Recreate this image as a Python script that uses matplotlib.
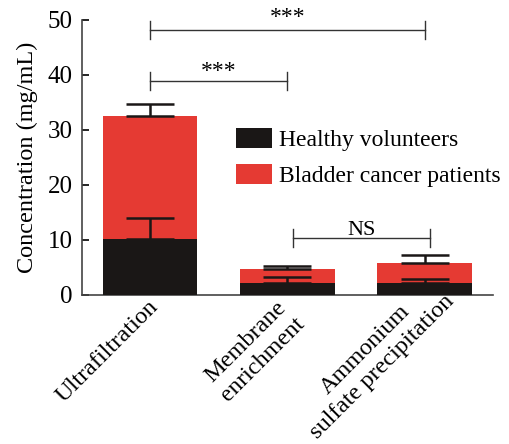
import numpy as np
import matplotlib.pyplot as plt
from matplotlib.transforms import ScaledTranslation

plt.rcParams['font.family'] = ['Liberation Serif', 'DejaVu Serif']

# Data
methods = ["Ultrafiltration", "Membrane\nenrichment", "Ammonium\nsulfate precipitation"]
healthy = [10.2, 2.2, 2.2]
healthy_err = [3.8, 1.1, 0.7]
cancer = [32.5, 4.7, 5.8]
cancer_err = [2.2, 0.6, 1.4]

black = "#1a1716"
red = "#e53a33"
x = np.arange(len(methods))
bar_width = 0.69

fig = plt.figure(figsize=(5.1, 4.44), dpi=100)
ax = fig.add_axes([0.161, 0.336, 0.806, 0.619])

# red bar is the total, black bar drawn on top of it
ax.bar(x, cancer, width=bar_width, color=red, label="Bladder cancer patients", zorder=2)
ax.bar(x, healthy, width=bar_width, color=black, label="Healthy volunteers", zorder=3)

ax.errorbar(x, cancer, yerr=[np.zeros(3), cancer_err], fmt="none", ecolor=black,
            elinewidth=1.8, capsize=17, capthick=1.8, zorder=4)
ax.errorbar(x, healthy, yerr=[np.zeros(3), healthy_err], fmt="none", ecolor=black,
            elinewidth=1.8, capsize=17, capthick=1.8, zorder=4)

# significance brackets
def bracket(x1, x2, y, text, dy=1.6, fs=17, off=0.0):
    ax.plot([x1, x2], [y, y], color="#333333", lw=1, clip_on=False)
    ax.plot([x1, x1], [y - dy, y + dy], color="#333333", lw=1, clip_on=False)
    ax.plot([x2, x2], [y - dy, y + dy], color="#333333", lw=1, clip_on=False)
    ax.text((x1 + x2) / 2, y + off, text, ha="center", va="bottom", fontsize=fs,
            clip_on=False)

bracket(0, 2, 48.2, "***", off=0.3)
bracket(0, 1, 38.9, "***", off=-0.2)
bracket(1.04, 2.04, 10.3, "NS", fs=16, off=-0.3)

ax.set_xlim(-0.496, 2.5)
ax.set_ylim(0, 50)
ax.set_yticks([0, 10, 20, 30, 40, 50])
ax.set_xticks(x)
ax.set_xticklabels(methods, rotation=45, ha="right", rotation_mode="anchor",
                   multialignment="center")
ax.tick_params(axis="x", length=0, labelsize=17.5, pad=5)
ax.tick_params(axis="y", direction="in", length=5, width=1.2, labelsize=18, pad=7)
ax.set_ylabel("Concentration (mg/mL)", fontsize=17.5, labelpad=7)

# nudge the rotated labels (pixels: right, up)
shifts = [(-2, 6), (-10, 6), (2, 28)]
for lab, (dx, dy) in zip(ax.get_xticklabels(), shifts):
    lab.set_transform(lab.get_transform() +
                      ScaledTranslation(dx / 100, dy / 100, fig.dpi_scale_trans))

for s in ["top", "right"]:
    ax.spines[s].set_visible(False)
for s in ["left", "bottom"]:
    ax.spines[s].set_linewidth(1.2)
    ax.spines[s].set_color("#444444")

handles, labels = ax.get_legend_handles_labels()
ax.legend(handles[::-1], labels[::-1], loc="upper left", bbox_to_anchor=(0.375, 0.607),
          frameon=False, fontsize=17, handlelength=1.5, handleheight=0.9,
          handletextpad=0.3, labelspacing=0.55, borderpad=0, borderaxespad=0)

plt.savefig("out.png", dpi=100)
